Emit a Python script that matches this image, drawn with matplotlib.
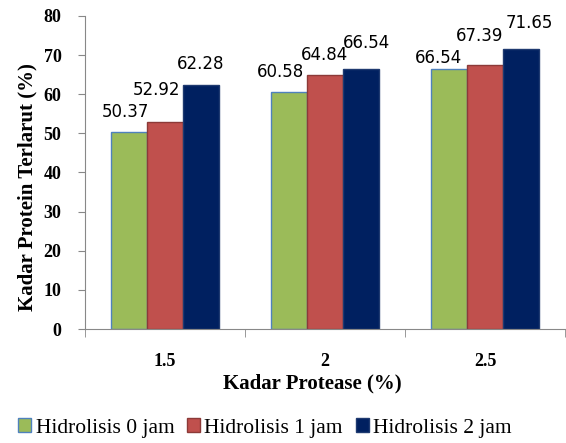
import numpy as np
import matplotlib.pyplot as plt

# data
categories = ['1.5', '2', '2.5']
series_names = ['Hidrolisis 0 jam', 'Hidrolisis 1 jam', 'Hidrolisis 2 jam']
jam0 = [50.37, 60.58, 66.54]
jam1 = [52.92, 64.84, 67.39]
jam2 = [62.28, 66.54, 71.65]
yticks = [0, 10, 20, 30, 40, 50, 60, 70, 80]

colors = ['#9BBB59', '#C0504D', '#002060']
edges = ['#4F81BD', '#8C3A38', '#1F3A70']
# manual label nudges (pixels) as in the original excel chart
label_nudge = [[(-4, 15), (-9, 15), (-10, 6)],
               [(-9, 27), (0, 15), (-5, 24)],
               [(0, 16), (5, 21), (8, 21)]]

fig = plt.figure(figsize=(5.66, 4.43), dpi=100)
ax = fig.add_axes([85/566, 114/443, 480/566, 313/443])

x = np.arange(len(categories))
w = 0.225
for i, vals in enumerate([jam0, jam1, jam2]):
    bars = ax.bar(x + (i-1)*w, vals, w, color=colors[i], edgecolor=edges[i],
                  linewidth=1, label=series_names[i])
    for j, b in enumerate(bars):
        dx, dy = label_nudge[i][j]
        ax.annotate('%.2f' % vals[j], (b.get_x() + b.get_width()/2, b.get_height()),
                    xytext=(dx, dy), textcoords='offset pixels',
                    ha='center', va='baseline', fontsize=12, family='DejaVu Sans')

ax.set_xlim(-0.5, 2.5)
ax.set_ylim(0, 80)
ax.set_yticks(yticks)
ax.set_xticks(x)
ax.set_xticklabels(categories)
ax.set_xticks([-0.5, 0.5, 1.5, 2.5], minor=True)

for lab in ax.get_xticklabels() + ax.get_yticklabels():
    lab.set_family('Liberation Serif')
    lab.set_fontweight('bold')
    lab.set_fontsize(13)

ax.tick_params(axis='x', which='major', length=0, pad=17)
ax.tick_params(axis='x', which='minor', length=6, color='#888888', direction='out')
ax.tick_params(axis='y', length=5, color='#888888', pad=12)

for s in ['top', 'right']:
    ax.spines[s].set_visible(False)
for s in ['left', 'bottom']:
    ax.spines[s].set_color('#888888')

fig.text(27/566, 1 - 187/443, 'Kadar Protein Terlarut (%)', rotation=90,
         ha='center', va='center', family='Liberation Serif', fontweight='bold', fontsize=15)
fig.text(312/566, 1 - 383/443, 'Kadar Protease (%)', ha='center', va='center',
         family='Liberation Serif', fontweight='bold', fontsize=15)

leg = fig.legend(loc='center', bbox_to_anchor=(265/566, 1 - 428/443), ncol=3,
                 frameon=False, prop={'family': 'Liberation Serif', 'size': 15.5},
                 handlelength=0.6, handleheight=0.6, handletextpad=0.2,
                 columnspacing=0.6, borderpad=0, borderaxespad=0)

fig.savefig('out.png', dpi=100)
